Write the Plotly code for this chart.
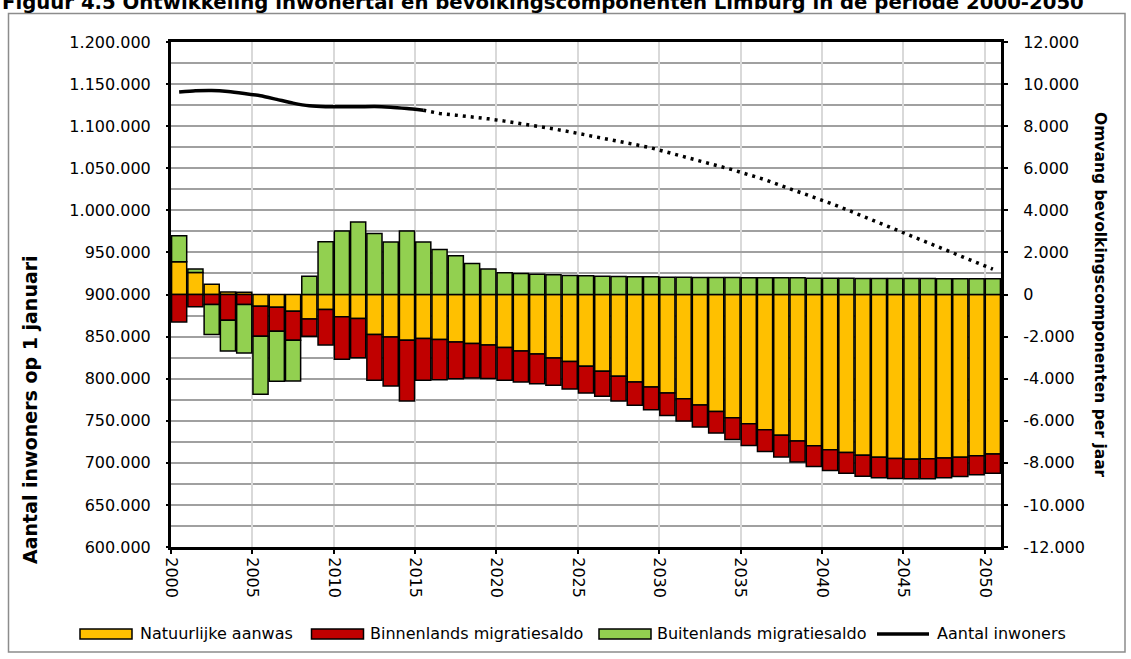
import plotly.graph_objects as go

# ---------------- data ----------------
years = list(range(2000, 2051))

natuurlijke_aanwas = [1555, 1047, 492, 120, 110, -555, -603, -794, -1159, -714,
                      -1063, -1143, -1904, -2015, -2174, -2095, -2142, -2253, -2333, -2400,
                      -2523, -2682, -2825, -3015, -3190, -3412, -3650, -3888, -4158, -4396,
                      -4682, -4951, -5253, -5555, -5856, -6142, -6428, -6689, -6959, -7189,
                      -7380, -7507, -7634, -7729, -7792, -7824, -7808, -7776, -7729, -7665,
                      -7586]

binnenlands_migratiesaldo = [-1301, -587, -476, -1222, -476, -1428, -1143, -1381, -825, -1682,
                             -2015, -1857, -2174, -2333, -2888, -1984, -1904, -1746, -1635, -1587,
                             -1555, -1476, -1412, -1301, -1301, -1270, -1190, -1174, -1111, -1079,
                             -1063, -1063, -1047, -1031, -1031, -1031, -1031, -1031, -1000, -984,
                             -984, -984, -1000, -984, -952, -936, -952, -936, -920, -905,
                             -905]

buitenlands_migratiesaldo = [1238, 159, -1428, -1460, -2300, -2761, -2380, -1936, 873, 2507,
                             3015, 3444, 2904, 2492, 3015, 2492, 2142, 1841, 1476, 1206,
                             1032, 1000, 968, 936, 905, 889, 873, 857, 841, 841,
                             825, 825, 809, 809, 809, 793, 793, 793, 793, 778,
                             778, 778, 762, 762, 762, 762, 762, 746, 746, 746,
                             746]

aantal_inwoners = [1140500, 1142000, 1142400, 1141300, 1138900, 1136100, 1131800, 1127400, 1124200, 1123000,
                   1123000, 1123000, 1123400, 1122600, 1121000, 1119000, 1115100, 1113100, 1111100, 1108700,
                   1106000, 1103200, 1100000, 1096800, 1093300, 1089600, 1086400, 1082100, 1078200, 1074200,
                   1069100, 1064400, 1059300, 1054100, 1048200, 1042300, 1036400, 1029300, 1022600, 1015600,
                   1008500, 1001000, 993100, 985600, 977800, 969500, 961600, 954100, 946300, 938000,
                   930100]

last_observed_year = 2015

x_tick_years = [2000, 2005, 2010, 2015, 2020, 2025, 2030, 2035, 2040, 2045, 2050]
right_tick_values = [-12000, -10000, -8000, -6000, -4000, -2000, 0, 2000, 4000, 6000, 8000, 10000, 12000]
right_tick_labels = ["-12.000", "-10.000", "-8.000", "-6.000", "-4.000", "-2.000", "0",
                     "2.000", "4.000", "6.000", "8.000", "10.000", "12.000"]

title_text = "Figuur 4.5 Ontwikkeling inwonertal en bevolkingscomponenten Limburg in de periode 2000-2050"
left_title = "Aantal inwoners op 1 januari"
right_title = "Omvang bevolkingscomponenten per jaar"
series_names = ["Natuurlijke aanwas", "Binnenlands migratiesaldo", "Buitenlands migratiesaldo", "Aantal inwoners"]

# ---------------- layout geometry ----------------
W, H = 1131, 659
L, R, T, B = 171, 1001, 42, 547   # plot area in pixels
PW, PH = R - L, B - T


def px(xp):
    return (xp - L) / PW


def py(yp):
    return (B - yp) / PH


YELLOW, RED, GREEN = "#FFC000", "#C00000", "#92D050"
FONT = "DejaVu Sans"

fig = go.Figure()

bar_series = [(natuurlijke_aanwas, YELLOW), (binnenlands_migratiesaldo, RED), (buitenlands_migratiesaldo, GREEN)]
for (vals, col), name in zip(bar_series, series_names[:3]):
    fig.add_trace(go.Bar(x=years, y=vals, name=name, marker=dict(color=col, line=dict(color="black", width=1.5)),
                         yaxis="y", showlegend=False))

obs_idx = years.index(last_observed_year)
fig.add_trace(go.Scatter(x=years[:obs_idx + 1], y=aantal_inwoners[:obs_idx + 1], mode="lines",
                         line=dict(color="black", width=3.5, shape="spline", smoothing=0.6),
                         yaxis="y2", name=series_names[3], showlegend=False))
fig.add_trace(go.Scatter(x=years[obs_idx:], y=aantal_inwoners[obs_idx:], mode="lines",
                         line=dict(color="black", width=3.5, dash="3px,5px"),
                         yaxis="y2", name=series_names[3] + " (prognose)", showlegend=False))

fig.update_layout(
    width=W, height=H,
    margin=dict(l=L, r=W - R, t=T, b=H - B, pad=0),
    paper_bgcolor="white", plot_bgcolor="white",
    barmode="relative", bargap=0.07,
    separators=",.",
    font=dict(family=FONT, size=16, color="black"),
    showlegend=False,
    xaxis=dict(range=[1999.5, 2050.5], tickmode="array",
               tickvals=[yr - 0.5 for yr in x_tick_years], ticktext=[str(yr) for yr in x_tick_years],
               tickangle=90, showgrid=True, gridcolor="#d9d9d9", gridwidth=1.5,
               showline=True, linecolor="black", linewidth=3, mirror=True,
               ticks="outside", ticklen=4, tickwidth=2, tickcolor="black", zeroline=False),
    yaxis=dict(range=[-12000, 12000], side="right", tickmode="array",
               tickvals=right_tick_values, ticktext=right_tick_labels,
               showgrid=False, zeroline=False,
               showline=True, linecolor="black", linewidth=3, mirror=True,
               ticks="outside", ticklen=4, tickwidth=2, tickcolor="black", ticklabelstandoff=12),
    yaxis2=dict(range=[600000, 1200000], side="left", overlaying="y", anchor="x",
                tickmode="linear", dtick=50000, tick0=600000, tickformat=",d",
                showgrid=True, gridcolor="#a0a0a0", gridwidth=1.5, zeroline=False,
                minor=dict(dtick=25000, tick0=600000, showgrid=True, gridcolor="#a0a0a0", gridwidth=1.5, ticks=""),
                showline=False, ticks="outside", ticklen=4, tickwidth=2, tickcolor="black", ticklabelstandoff=12),
)

shapes = []
annotations = []

# outer frame
shapes.append(dict(type="rect", xref="paper", yref="paper", x0=px(8.5), x1=px(1125), y0=py(652), y1=py(13.5),
                   line=dict(color="#8c8c8c", width=1.5), fillcolor="rgba(0,0,0,0)", layer="below"))

# title (partly cut off at the top, like the reference)
annotations.append(dict(text="<b>" + title_text + "</b>", xref="paper", yref="paper", x=px(0), y=py(2.5),
                        xanchor="left", yanchor="middle", showarrow=False,
                        font=dict(family=FONT, size=19.7, color="black")))

# axis titles
annotations.append(dict(text="<b>" + left_title + "</b>", xref="paper", yref="paper", x=px(30), y=py(410),
                        xanchor="center", yanchor="middle", textangle=-90, showarrow=False,
                        font=dict(family=FONT, size=19, color="black")))
annotations.append(dict(text="<b>" + right_title + "</b>", xref="paper", yref="paper", x=px(1100), y=py(295),
                        xanchor="center", yanchor="middle", textangle=90, showarrow=False,
                        font=dict(family=FONT, size=15.5, color="black")))

# custom legend
leg_y = 634
leg_items = [(80, 138, YELLOW, "box"), (311.5, 368, RED, "box"), (599, 655, GREEN, "box"), (877, 934.5, "black", "line")]
for (bx, tx, col, kind), name in zip(leg_items, series_names):
    if kind == "box":
        shapes.append(dict(type="rect", xref="paper", yref="paper", x0=px(bx), x1=px(bx + 52),
                           y0=py(leg_y + 5), y1=py(leg_y - 5), fillcolor=col,
                           line=dict(color="black", width=1.5)))
    else:
        shapes.append(dict(type="line", xref="paper", yref="paper", x0=px(bx), x1=px(bx + 52),
                           y0=py(leg_y), y1=py(leg_y), line=dict(color="black", width=3.5)))
    annotations.append(dict(text=name, xref="paper", yref="paper", x=px(tx), y=py(leg_y - 1),
                            xanchor="left", yanchor="middle", showarrow=False,
                            font=dict(family=FONT, size=16, color="black")))

fig.update_layout(shapes=shapes, annotations=annotations)

fig.write_html("out.html", config={"displayModeBar": False},
               post_script="document.body.style.margin='0';document.body.style.overflow='hidden';")
